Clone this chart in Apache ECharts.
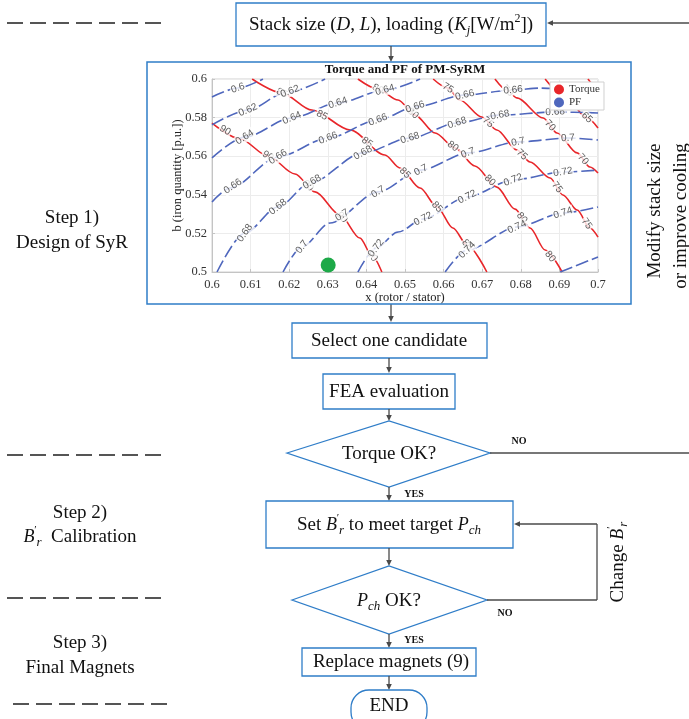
<!DOCTYPE html>
<html><head><meta charset="utf-8">
<script src="https://cdn.jsdelivr.net/npm/echarts@6/dist/echarts.min.js"></script>
<style>html,body{margin:0;padding:0;background:#fff}#c{width:689px;height:719px}</style>
</head><body><div id="c"></div>
<script>
const SERIF='"Liberation Serif","Times New Roman",serif';
const SANS='"Liberation Sans",Arial,sans-serif';

// ---- axis ranges ----
const xMin=0.6, xMax=0.7, xStep=0.01;
const yMin=0.5, yMax=0.6, yStep=0.02;

// ---- torque contours (x, b) ----
const torque90=[[0.6,0.5772],[0.6073,0.5689],[0.6145,0.5601],[0.6215,0.5508],[0.6267,0.5415],[0.6332,0.5295],[0.6383,0.5176],[0.6415,0.5083],[0.644,0.5]];
const torque85=[[0.6104,0.6],[0.6181,0.5927],[0.6259,0.5839],[0.6358,0.5736],[0.6448,0.5606],[0.6487,0.5539],[0.6539,0.5435],[0.6583,0.5337],[0.6624,0.5228],[0.6661,0.514],[0.6712,0.5]];
const torque80=[[0.6378,0.6],[0.643,0.5948],[0.6482,0.5891],[0.6526,0.5813],[0.6578,0.572],[0.663,0.5642],[0.6681,0.5549],[0.6738,0.544],[0.6785,0.5326],[0.6824,0.5228],[0.6863,0.5114],[0.6907,0.5]];
const torque75=[[0.6573,0.6],[0.6611,0.5953],[0.6642,0.5891],[0.6699,0.5803],[0.6738,0.5736],[0.679,0.5632],[0.6824,0.557],[0.6876,0.5487],[0.6909,0.5399],[0.6946,0.5321],[0.6979,0.5228],[0.7,0.5181]];
const torque70=[[0.6733,0.6],[0.6767,0.5938],[0.679,0.5902],[0.6858,0.5798],[0.6894,0.572],[0.6946,0.5617],[0.6979,0.5544],[0.7,0.5513]];
const torque65=[[0.6863,0.6],[0.6915,0.5907],[0.6972,0.5798],[0.7,0.5746]];
const torque60=[[0.6974,0.6],[0.7,0.5933]];

// ---- PF contours ----
const pf060=[[0.6,0.5907],[0.6067,0.5953],[0.6132,0.6]];
const pf062=[[0.6,0.5762],[0.6093,0.5839],[0.6189,0.5927],[0.6293,0.6]];
const pf064=[[0.6,0.5591],[0.6085,0.5699],[0.6207,0.5798],[0.6326,0.5876],[0.6448,0.5943],[0.6539,0.6]];
const pf066=[[0.6,0.5363],[0.6047,0.5435],[0.6171,0.5596],[0.6301,0.5694],[0.643,0.5788],[0.6526,0.5855],[0.6655,0.5917],[0.678,0.5943],[0.685,0.5953],[0.7,0.5933]];
const pf068=[[0.6013,0.5],[0.6085,0.5202],[0.6171,0.5337],[0.6254,0.5461],[0.6391,0.5617],[0.6513,0.5694],[0.6635,0.5772],[0.6746,0.5813],[0.6889,0.5829],[0.7,0.5824]];
const pf070=[[0.6184,0.5],[0.6233,0.513],[0.6306,0.5254],[0.643,0.5415],[0.6541,0.5528],[0.6663,0.5617],[0.6793,0.5674],[0.6922,0.5694],[0.7,0.5684]];
const pf072=[[0.6378,0.5],[0.6425,0.5124],[0.6482,0.5207],[0.6547,0.5275],[0.6661,0.5389],[0.678,0.5477],[0.6909,0.5518],[0.7,0.5528]];
const pf074=[[0.6604,0.5],[0.6661,0.5114],[0.679,0.5233],[0.6909,0.5306],[0.7,0.5337]];
const pf076=[[0.6902,0.5],[0.7,0.5078]];

// ---- contour label x-positions ----
const torque90LabelX=[0.6034,0.6145,0.6249,0.6337,0.6415];
const torque85LabelX=[0.6181,0.6285,0.6402,0.65,0.6583,0.6661];
const torque80LabelX=[0.643,0.6521,0.6624,0.672,0.6803,0.6876];
const torque75LabelX=[0.6611,0.6715,0.6803,0.6894,0.6971];
const torque70LabelX=[0.6767,0.6876,0.6961];
const torque65LabelX=[0.6971];
const pf060LabelX=[0.6067];
const pf062LabelX=[0.6093,0.6202];
const pf064LabelX=[0.6085,0.6207,0.6326,0.6448];
const pf066LabelX=[0.6054,0.6171,0.6301,0.643,0.6526,0.6655,0.678];
const pf068LabelX=[0.6085,0.6171,0.6259,0.6391,0.6513,0.6635,0.6746,0.6889];
const pf070LabelX=[0.6233,0.6337,0.643,0.6541,0.6663,0.6793,0.6922];
const pf072LabelX=[0.6425,0.6547,0.6661,0.678,0.6909];
const pf074LabelX=[0.6661,0.679,0.6909];

// selected candidate point
const candidate=[[0.6301,0.5036]];

const torqueSets=[['90',torque90,torque90LabelX],['85',torque85,torque85LabelX],['80',torque80,torque80LabelX],['75',torque75,torque75LabelX],['70',torque70,torque70LabelX],['65',torque65,torque65LabelX],['60',torque60,[]]];
const pfSets=[['0.6',pf060,pf060LabelX],['0.62',pf062,pf062LabelX],['0.64',pf064,pf064LabelX],['0.66',pf066,pf066LabelX],['0.68',pf068,pf068LabelX],['0.7',pf070,pf070LabelX],['0.72',pf072,pf072LabelX],['0.74',pf074,pf074LabelX],['0.76',pf076,[]]];

const RED='#e8262a', PFBLUE='#4f67bd', BLUE='#2f7dc8', LINE='#4a4a4a', TXT='#111';

function lineSeries(name,pts,color,dash){
  return {type:'line',name,data:pts,showSymbol:false,symbol:'none',smooth:0.3,smoothMonotone:'x',
    lineStyle:{color,width:1.6,type:dash},itemStyle:{color},z:2,silent:true,animation:false};
}

// ---- graphic helpers ----
function rect(x,y,w,h,r){return {type:'rect',shape:{x,y,width:w,height:h,r:r||0},style:{fill:'#fff',stroke:BLUE,lineWidth:1.3},z:1};}
function poly(points){return {type:'polygon',shape:{points},style:{fill:'#fff',stroke:BLUE,lineWidth:1.3},z:1};}
function seg(x1,y1,x2,y2){return {type:'line',shape:{x1,y1,x2,y2},style:{stroke:LINE,lineWidth:1.3},z:1};}
function dashed(x1,x2,y){return {type:'line',shape:{x1,y1:y,x2,y2:y},style:{stroke:'#555',lineWidth:2,lineDash:[16,7]},z:1};}
function arrow(x1,y1,x2,y2){
  const a=Math.atan2(y2-y1,x2-x1),L=6,W=2.8;
  const bx=x2-L*Math.cos(a),by=y2-L*Math.sin(a);
  return [seg(x1,y1,bx,by),{type:'polygon',shape:{points:[[x2,y2],[bx+W*Math.sin(a),by-W*Math.cos(a)],[bx-W*Math.sin(a),by+W*Math.cos(a)]]},style:{fill:LINE},z:1}];
}
const RICH={
  n:{fontFamily:SERIF,fontSize:19,fill:TXT,lineHeight:24},
  i:{fontFamily:SERIF,fontSize:19,fontStyle:'italic',fill:TXT,lineHeight:24},
  bi:{fontFamily:SERIF,fontSize:18,fontStyle:'italic',fill:TXT,lineHeight:24},
  sub:{fontFamily:SERIF,fontSize:13,fontStyle:'italic',fill:TXT,lineHeight:14,verticalAlign:'bottom'},
  subn:{fontFamily:SERIF,fontSize:12,fontStyle:'italic',fill:TXT,lineHeight:13,verticalAlign:'bottom'},
  sup:{fontFamily:SERIF,fontSize:12,fill:TXT,lineHeight:13,verticalAlign:'top'},
  pr:{fontFamily:SERIF,fontSize:11,fill:TXT,lineHeight:12,verticalAlign:'top',width:2}
};
function txt(x,y,text,o){
  o=o||{};
  return {type:'text',x,y,rotation:o.rot||0,z:3,
    style:{text,fill:o.color||TXT,fontFamily:o.font||SERIF,fontSize:o.size||19,fontWeight:o.weight||'normal',
      align:o.align||'center',verticalAlign:'middle',rich:RICH}};
}

const graphics=[].concat(
  [dashed(7,163,23),dashed(7,163,455),dashed(7,163,598),dashed(13,169,704)],
  [rect(236,3,310,43)],
  [txt(391,25,'{n|Stack size (}{i|D}{n|, }{i|L}{n|), loading (}{i|K}{subn|j}{n|[W/m}{sup|2}{n|])}')],
  arrow(689,23,547,23),
  arrow(391,46,391,62),
  [{type:'rect',shape:{x:147,y:62,width:484,height:242},style:{fill:'none',stroke:BLUE,lineWidth:1.5},z:5}],
  [txt(405,70,'Torque and PF of PM-SyRM',{size:13,weight:'bold'})],
  arrow(391,304,391,322),
  [rect(292,323,195,35),txt(389,341,'Select one candidate')],
  arrow(389,358,389,373),
  [rect(323,374,132,35),txt(389,392,'FEA evaluation')],
  arrow(389,409,389,421),
  [poly([[287,453],[389,421],[490,453],[389,487]]),txt(389,454,'Torque OK?')],
  [seg(490,453,689,453),txt(519,441,'NO',{size:10,weight:'bold'})],
  arrow(389,487,389,501),
  [txt(414,494,'YES',{size:10,weight:'bold'})],
  [rect(266,501,247,47),txt(389,525,'{n|Set }{bi|B}{pr|′}{sub|r}{n| to meet target }{bi|P}{sub|ch}')],
  arrow(389,548,389,566),
  [poly([[292,600],[389,566],[487,600],[389,634]]),txt(389,601,'{bi|P}{sub|ch}{n| OK?}')],
  [seg(487,600,597,600),seg(597,600,597,524)],
  arrow(597,524,514,524),
  [txt(505,613,'NO',{size:10,weight:'bold'})],
  [txt(618,562,'{n|Change }{bi|B}{pr|′}{sub|r}',{rot:Math.PI/2})],
  arrow(389,634,389,648),
  [txt(414,640,'YES',{size:10,weight:'bold'})],
  [rect(302,648,174,28),txt(391,662,'Replace magnets (9)')],
  arrow(389,676,389,690),
  [rect(351,690,76,40,18),txt(389,706,'END')],
  [txt(72,218,'Step 1)'),txt(72,243,'Design of SyR'),
   txt(80,513,'Step 2)'),txt(80,537,'{bi|B}{pr|′}{sub|r}{n|  Calibration}'),
   txt(80,643,'Step 3)'),txt(80,668,'Final Magnets')],
  [txt(655,211,'Modify stack size',{rot:Math.PI/2}),txt(681,216,'or improve cooling',{rot:Math.PI/2})]
);

const fmt=v=>String(+v.toFixed(2));
const series=[];
torqueSets.forEach(s=>series.push(lineSeries('Torque',s[1],RED,'solid')));
pfSets.forEach(s=>series.push(lineSeries('PF',s[1],PFBLUE,[13,4])));
series.push({type:'scatter',name:'candidate',data:candidate,symbolSize:15,itemStyle:{color:'#1da948',opacity:1},z:6,silent:true});

const chart=echarts.init(document.getElementById('c'));
chart.setOption({
  animation:false,
  grid:{left:212,top:79,width:386,height:193,show:true,borderColor:'#d0d0d0',borderWidth:1,outerBoundsMode:'none',containLabel:false},
  xAxis:{type:'value',min:xMin,max:xMax,interval:xStep,
    axisLine:{show:true,lineStyle:{color:'#c4c4c4'}},axisTick:{show:true,inside:true,length:3,lineStyle:{color:'#c4c4c4'}},
    splitLine:{show:true,lineStyle:{color:'#ececec'}},
    axisLabel:{fontFamily:SERIF,fontSize:12.5,color:'#333',margin:6,formatter:fmt},
    name:'x (rotor / stator)',nameLocation:'middle',nameGap:19,nameMoveOverlap:false,nameTextStyle:{fontFamily:SERIF,fontSize:12.5,color:'#222'}},
  yAxis:{type:'value',min:yMin,max:yMax,interval:yStep,
    axisLine:{show:true,lineStyle:{color:'#c4c4c4'}},axisTick:{show:true,inside:true,length:3,lineStyle:{color:'#c4c4c4'}},
    splitLine:{show:true,lineStyle:{color:'#ececec'}},
    axisLabel:{fontFamily:SERIF,fontSize:12.5,color:'#333',margin:5,formatter:fmt},
    name:'b (iron quantity [p.u.])',nameLocation:'middle',nameGap:28,nameRotate:90,nameMoveOverlap:false,nameTextStyle:{fontFamily:SERIF,fontSize:12.5,color:'#222'}},
  legend:{data:['Torque','PF'],orient:'vertical',left:550,top:82,icon:'circle',itemWidth:10,itemHeight:10,itemGap:2,
    padding:[2,4],backgroundColor:'#fff',borderColor:'#d0d0d0',borderWidth:1,selectedMode:false,
    textStyle:{fontFamily:SERIF,fontSize:11,color:'#333'}},
  graphic:graphics,
  series
});

function labelData(sets){
  const out=[];
  sets.forEach(([lvl,pts,xs])=>{
    xs.forEach(x=>{
      let i=0; while(i<pts.length-2 && pts[i+1][0]<x) i++;
      const a=pts[i],b=pts[i+1];
      const t=(x-a[0])/(b[0]-a[0]);
      const y=a[1]+t*(b[1]-a[1]);
      const pa=chart.convertToPixel({gridIndex:0},a),pb=chart.convertToPixel({gridIndex:0},b);
      let ang=-Math.atan2(pb[1]-pa[1],pb[0]-pa[0])*180/Math.PI;
      if(ang>90) ang-=180; if(ang<-90) ang+=180;
      out.push({value:[x,y],name:lvl,label:{rotate:ang}});
    });
  });
  return out;
}
const labelStyle={show:true,position:'inside',formatter:'{b}',fontFamily:SANS,fontSize:10,color:'#333',backgroundColor:'#fff',padding:[0,1],lineHeight:11};
series.push({type:'scatter',name:'torqueLabels',data:labelData(torqueSets),symbolSize:0,label:labelStyle,z:3,silent:true});
series.push({type:'scatter',name:'pfLabels',data:labelData(pfSets),symbolSize:0,label:labelStyle,z:3,silent:true});
chart.setOption({series});
</script></body></html>
